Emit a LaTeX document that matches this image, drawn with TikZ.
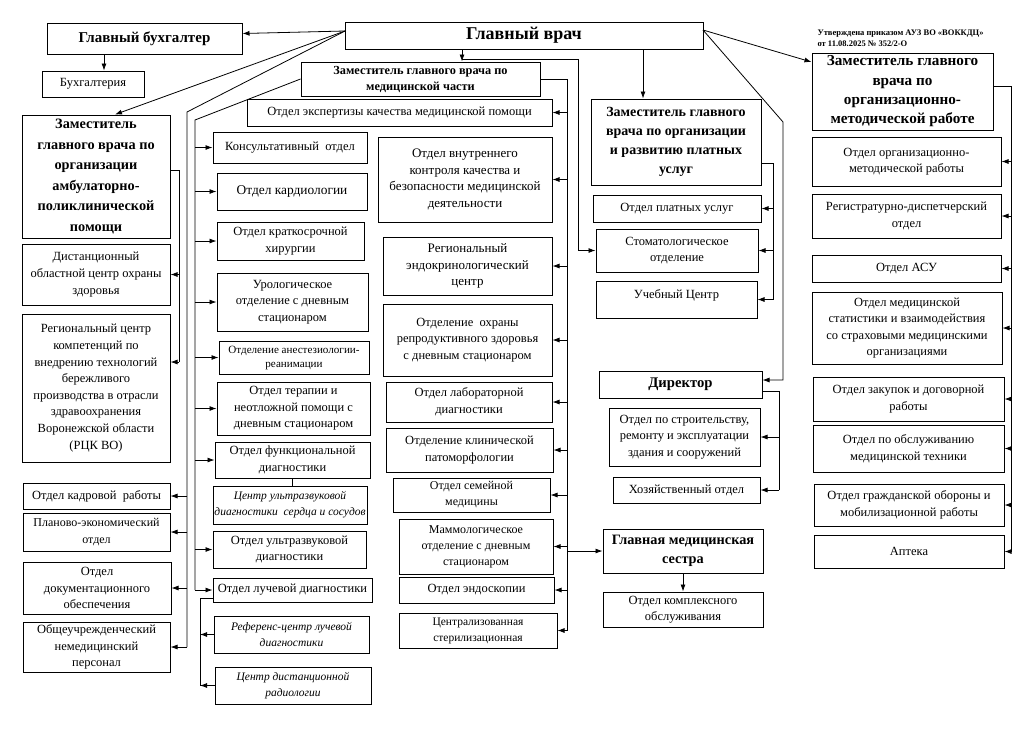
\documentclass[tikz,border=0pt]{standalone}
\usepackage{fontspec}
\setmainfont{Liberation Serif}
\usetikzlibrary{arrows.meta,calc}
\newcommand\fsz[2]{\fontsize{#1}{#2}\selectfont}
\newcommand\obox[7][]{\node[box,#1,minimum width={#5-#3},minimum height={#6-#4}] (#2) at ({(#3+#5)/2},{(#4+#6)/2}) {#7};}
\begin{document}
\begin{tikzpicture}[x=1pt,y=-1pt,
  box/.style={draw,line width=1pt,inner sep=1pt,align=center,font=\fsz{12.5}{16.6}},
  ital/.style={font=\itshape\fsz{11.5}{16}},
  arr/.style={line width=0.8pt,-{Latex[length=7pt,width=5pt]}},
  ln/.style={line width=0.8pt}]
\useasboundingbox[fill=white] (0,0) rectangle (1024,745);
% top
\obox[font=\bfseries\fsz{18}{22}]{gv}{345}{22}{703}{49}{Главный врач}
\obox[font=\bfseries\fsz{15}{18}]{gb}{47}{23}{242}{54}{Главный бухгалтер}
\obox{buh}{42}{71}{144}{97}{Бухгалтерия}
\node[anchor=north west,align=left,font=\bfseries\fsz{8.5}{11}] (note) at (814,26) {Утверждена приказом АУЗ ВО «ВОККДЦ»\\от 11.08.2025 № 352/2-О};
% medical deputy
\obox[font=\bfseries\fsz{12.3}{16}]{zm}{301}{62}{540}{96}{Заместитель главного врача по\\медицинской части}
\obox{exp}{247}{99}{552}{126}{Отдел экспертизы качества медицинской помощи}
% left column
\obox[font=\bfseries\fsz{14.3}{20.5}]{za}{22}{115}{170}{238}{Заместитель\\главного врача по\\организации\\амбулаторно-\\поликлинической\\помощи}
\obox{dist}{22}{244}{170}{305}{Дистанционный\\областной центр охраны\\здоровья}
\obox{rck}{22}{314}{170}{462}{Региональный центр\\компетенций по\\внедрению технологий\\бережливого\\производства в отрасли\\здравоохранения\\Воронежской области\\(РЦК ВО)}
\obox{kadr}{23}{483}{170}{509}{Отдел кадровой\ \ работы}
\obox[font=\fsz{12}{16.6}]{plan}{23}{513}{170}{551}{Планово-экономический\\отдел}
\obox{doc}{23}{562}{171}{614}{Отдел\\документационного\\обеспечения}
\obox{obsh}{23}{622}{170}{672}{Общеучрежденческий\\немедицинский\\персонал}
% middle column 1
\obox{kons}{213}{132}{367}{163}{Консультативный\ \ отдел}
\obox[font=\fsz{13.4}{17}]{kard}{217}{173}{367}{210}{Отдел кардиологии}
\obox{krat}{217}{222}{364}{260}{Отдел краткосрочной\\хирургии}
\obox{urol}{217}{273}{368}{331}{Урологическое\\отделение с дневным\\стационаром}
\obox[font=\fsz{11.1}{14}]{anest}{219}{341}{369}{374}{Отделение анестезиологии-\\реанимации}
\obox{ter}{217}{382}{370}{435}{Отдел терапии и\\неотложной помощи с\\дневным стационаром}
\obox{funk}{215}{442}{370}{478}{Отдел функциональной\\диагностики}
\obox[ital]{uzc}{213}{486}{367}{524}{Центр ультразвуковой\\диагностики\ \ сердца и сосудов}
\obox{uzi}{213}{531}{366}{568}{Отдел ультразвуковой\\диагностики}
\obox{luch}{213}{578}{372}{602}{Отдел лучевой диагностики}
\obox[ital]{refc}{214}{616}{369}{653}{Референс-центр лучевой\\диагностики}
\obox[ital]{drad}{215}{667}{371}{704}{Центр дистанционной\\радиологии}
% middle column 2
\obox[font=\fsz{13}{16.7}]{vnut}{378}{137}{552}{222}{Отдел внутреннего\\контроля качества и\\безопасности медицинской\\деятельности}
\obox[font=\fsz{13}{16.5}]{endo}{383}{237}{552}{295}{Региональный\\эндокринологический\\центр}
\obox{ohr}{383}{304}{552}{376}{Отделение\ \ охраны\\репродуктивного здоровья\\с дневным стационаром}
\obox{lab}{386}{382}{552}{422}{Отдел лабораторной\\диагностики}
\obox{klin}{386}{428}{553}{472}{Отделение клинической\\патоморфологии}
\obox[font=\fsz{12}{16}]{sem}{393}{478}{550}{512}{Отдел семейной\\медицины}
\obox[font=\fsz{12}{16}]{mamm}{399}{519}{553}{574}{Маммологическое\\отделение с дневным\\стационаром}
\obox{endos}{399}{577}{554}{603}{Отдел эндоскопии}
\obox[font=\fsz{11.5}{16}]{ster}{399}{613}{557}{648}{Централизованная\\стерилизационная}
% right-middle column
\obox[font=\bfseries\fsz{14}{19}]{zp}{591}{99}{761}{185}{Заместитель главного\\врача по организации\\и развитию платных\\услуг}
\obox{plat}{593}{195}{761}{222}{Отдел платных услуг}
\obox{stom}{596}{229}{758}{272}{Стоматологическое\\отделение}
\obox[text depth=10pt]{ucheb}{596}{281}{757}{318}{Учебный Центр}
\obox[font=\bfseries\fsz{14.7}{18}]{dir}{599}{371}{762}{398}{Директор}
\obox{stroi}{609}{408}{760}{466}{Отдел по строительству,\\ремонту и эксплуатации\\здания и сооружений}
\obox{hoz}{613}{477}{760}{503}{Хозяйственный отдел}
\obox[font=\bfseries\fsz{14.3}{19}]{gms}{603}{529}{763}{573}{Главная медицинская\\сестра}
\obox{kompl}{603}{592}{763}{627}{Отдел комплексного\\обслуживания}
% far right column
\obox[font=\bfseries\fsz{15.2}{19.3}]{zo}{812}{53}{993}{130}{Заместитель главного\\врача по\\организационно-\\методической работе}
\obox{om}{812}{137}{1001}{186}{Отдел организационно-\\методической работы}
\obox{reg}{812}{194}{1001}{238}{Регистратурно-диспетчерский\\отдел}
\obox{asu}{812}{255}{1001}{282}{Отдел АСУ}
\obox{stat}{812}{292}{1002}{364}{Отдел медицинской\\статистики и взаимодействия\\со страховыми медицинскими\\организациями}
\obox{zak}{813}{377}{1004}{421}{Отдел закупок и договорной\\работы}
\obox{obsl}{813}{425}{1004}{472}{Отдел по обслуживанию\\медицинской техники}
\obox{go}{814}{484}{1004}{526}{Отдел гражданской обороны и\\мобилизационной работы}
\obox{apt}{814}{535}{1004}{568}{Аптека}
% ---------- connectors ----------
\coordinate (gvL) at (345,31);
\coordinate (gvR) at (703,30);
\draw[arr] (gvL) -- ([yshift=5pt]gb.east);
\draw[arr] (gvL) -- ([xshift=19pt]za.north);
\draw[arr] (gb.south -| 104,0) -- (buh.north -| 104,0);
% bus from chief to left lower boxes
\coordinate (busL) at (187,112);
\draw[ln] (gvL) -- (busL) -- (busL |- obsh.east);
\foreach \n in {kadr,plan,doc,obsh} \draw[arr] (busL |- \n.east) -- (\n.east);
% ambulatory deputy bus
\coordinate (busA) at (179,170);
\draw[ln] (za.east |- busA) -- (busA) -- (179,362);
\draw[arr] (busA |- dist.east) -- (dist.east);
\draw[arr] (179,362) -- (rck.east |- 0,362);
% medical deputy
\draw[arr] (gv.south -| 462,0) -- (zm.north -| 462,0);
\draw[arr] (462,59) -- (578,59) |- (stom.west);
\coordinate (busM) at (195,120);
\draw[ln] (zm.west) -- (busM) -- (busM |- luch.west);
\foreach \n in {kons,kard,krat,urol,anest,ter,funk,uzi,luch} \draw[arr] (busM |- \n.west) -- (\n.west);
\draw[ln] (funk.south) -- (funk.south |- uzc.north);
\coordinate (busU) at (200,598);
\draw[ln] (luch.west |- busU) -- (busU) -- (busU |- drad.west);
\foreach \n in {refc,drad} \draw[arr] (\n.west) -- (busU |- \n.west);
\coordinate (busR) at (567,0);
\draw[ln] (zm.east) -- (zm.east -| busR) -- (busR |- ster.east);
\foreach \n in {exp,vnut,endo,ohr,lab,klin,sem,mamm,endos,ster} \draw[arr] (busR |- \n.east) -- (\n.east);
\draw[arr] (busR |- gms.west) -- (gms.west);
\draw[arr] (gms.south) -- (kompl.north);
% paid services deputy
\draw[arr] (gv.south -| 643,0) -- (zp.north -| 643,0);
\coordinate (busP) at (773,163);
\draw[ln] (zp.east |- busP) -- (busP) -- (busP |- ucheb.east);
\foreach \n in {plat,stom,ucheb} \draw[arr] (busP |- \n.east) -- (\n.east);
% director
\draw[arr] (gvR) -- (783,122) |- (dir.east |- 0,380);
\coordinate (busD) at (779,391);
\draw[ln] (dir.east |- busD) -- (busD) -- (busD |- hoz.east);
\foreach \n in {stroi,hoz} \draw[arr] (busD |- \n.east) -- (\n.east);
% methodical deputy
\draw[arr] (gvR) -- (zo.west |- 0,62);
\coordinate (busO) at (1011,86);
\draw[ln] (zo.east |- busO) -- (busO) -- (busO |- apt.east);
\foreach \n in {om,reg,asu,stat,zak,obsl,go,apt} \draw[arr] (busO |- \n.east) -- (\n.east);
\end{tikzpicture}
\end{document}
